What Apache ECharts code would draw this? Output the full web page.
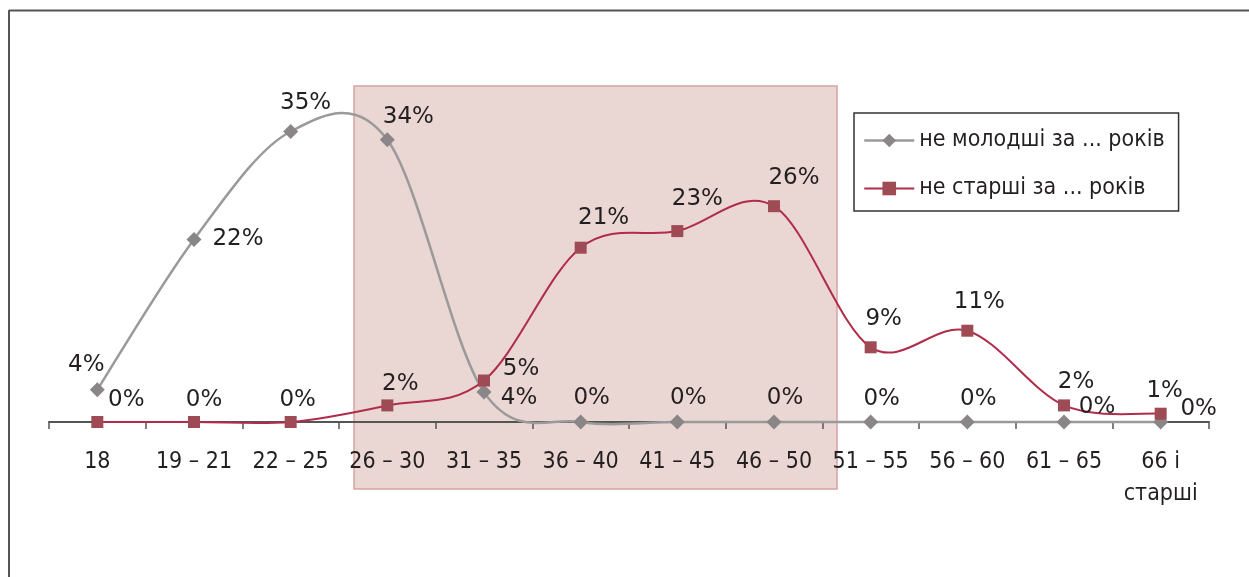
<!DOCTYPE html>
<html><head><meta charset="utf-8">
<script src="https://cdn.jsdelivr.net/npm/echarts@6/dist/echarts.min.js"></script>
<style>html,body{margin:0;padding:0;background:#fff}#c{width:1249px;height:577px}</style>
</head><body><div id="c"></div>
<script>
const categories = ['18', '19 – 21', '22 – 25', '26 – 30', '31 – 35', '36 – 40', '41 – 45', '46 – 50', '51 – 55', '56 – 60', '61 – 65', '66 і\nстарші'];
const seriesNames = ['не молодші за ... років', 'не старші за ... років'];
const notYounger = [3.9, 22, 35, 34, 3.6, 0, 0, 0, 0, 0, 0, 0];
const notOlder = [0, 0, 0, 2, 5, 21, 23, 26, 9, 11, 2, 1];

// label placement (style only): offset of each label's centre from its marker
const offsGray = [[-11,-25],[44,0],[15,-28],[21,-23],[35,6],[11,-24],[11,-24],[11,-24],[11,-23],[11,-23],[33,-15],[38,-13]];
const offsRed = [[29,-22],[10,-22],[7,-22],[13,-21],[37,-11],[23,-30],[20,-32],[20,-28],[13,-28],[12,-29],[12,-23],[4,-23]];

const grayLine = '#9a9a9a', grayMark = '#8a8587';
const redLine = '#b02c4a', redMark = '#9e4b55';
const labelFont = { fontFamily: 'DejaVu Sans', fontSize: 23, color: '#231f20' };

function items(vals, offs) {
  return vals.map((v, i) => ({ value: v, label: { offset: offs[i] } }));
}
// Excel-like smoothed curve (Catmull-Rom, tension 1/6) through points placed by the axes
function smoothRenderer(vals, color, width) {
  return function (params, api) {
    const p = vals.map((v, i) => api.coord([i, v]));
    let d = 'M' + p[0][0] + ' ' + p[0][1];
    for (let i = 0; i < p.length - 1; i++) {
      const p0 = p[i - 1] || p[i], p1 = p[i], p2 = p[i + 1], p3 = p[i + 2] || p[i + 1];
      const c1x = p1[0] + (p2[0] - p0[0]) / 6, c1y = p1[1] + (p2[1] - p0[1]) / 6;
      const c2x = p2[0] - (p3[0] - p1[0]) / 6, c2y = p2[1] - (p3[1] - p1[1]) / 6;
      d += ' C' + c1x + ' ' + c1y + ' ' + c2x + ' ' + c2y + ' ' + p2[0] + ' ' + p2[1];
    }
    return { type: 'path', shape: { pathData: d }, style: { stroke: color, lineWidth: width, fill: 'none' }, silent: true };
  };
}
const chart = echarts.init(document.getElementById('c'), null, { renderer: 'canvas' });
chart.setOption({
  animation: false,
  backgroundColor: '#fff',
  grid: { left: 49, right: 40, top: 90, bottom: 155 },
  graphic: [
    { type: 'rect', z: -5, shape: { x: 354, y: 86, width: 483, height: 403 },
      style: { fill: '#ead6d3', stroke: '#d6a4a2', lineWidth: 1.5 } },
    { type: 'line', shape: { x1: 9, y1: 10.5, x2: 1249, y2: 10.5 }, style: { stroke: '#555', lineWidth: 2 } },
    { type: 'line', shape: { x1: 9, y1: 10, x2: 9, y2: 577 }, style: { stroke: '#555', lineWidth: 2 } }
  ],
  legend: {
    orient: 'vertical', left: 854, top: 113,
    padding: [16, 14, 11, 9],
    borderColor: '#333', borderWidth: 1.5, backgroundColor: '#fff',
    itemWidth: 50, itemHeight: 17, itemGap: 25,
    selectedMode: false,
    textStyle: { fontFamily: 'DejaVu Sans Condensed', fontSize: 23, color: '#231f20' },
    data: [
      { name: seriesNames[0], lineStyle: { color: grayLine, width: 2.5, opacity: 1 } },
      { name: seriesNames[1], lineStyle: { color: redLine, width: 2, opacity: 1 } }
    ]
  },
  xAxis: {
    type: 'category', data: categories,
    axisLine: { lineStyle: { color: '#555', width: 2 } },
    axisTick: { show: true, length: 7, lineStyle: { color: '#555', width: 1.5 } },
    axisLabel: { fontFamily: 'DejaVu Sans Condensed', fontSize: 23, color: '#231f20', margin: 24, lineHeight: 32, interval: 0 }
  },
  yAxis: { type: 'value', min: 0, max: 40, show: false, splitLine: { show: false } },
  series: [
    { name: 'curve0', type: 'custom', z: 2, data: [[0, 0]], renderItem: smoothRenderer(notYounger, grayLine, 2.5) },
    { name: 'curve1', type: 'custom', z: 2, data: [[0, 0]], renderItem: smoothRenderer(notOlder, redLine, 2) },
    {
      name: seriesNames[0], type: 'line', z: 3,
      data: items(notYounger, offsGray),
      symbol: 'diamond', symbolSize: 15,
      lineStyle: { color: grayLine, width: 2.5, opacity: 0 },
      itemStyle: { color: grayMark },
      label: Object.assign({ show: true, position: 'inside', align: 'center', verticalAlign: 'middle',
        formatter: p => Math.round(p.value) + '%' }, labelFont)
    },
    {
      name: seriesNames[1], type: 'line', z: 4,
      data: items(notOlder, offsRed),
      symbol: 'rect', symbolSize: 12,
      lineStyle: { color: redLine, width: 2, opacity: 0 },
      itemStyle: { color: redMark },
      label: Object.assign({ show: true, position: 'inside', align: 'center', verticalAlign: 'middle',
        formatter: p => Math.round(p.value) + '%' }, labelFont)
    }
  ]
});
</script></body></html>
